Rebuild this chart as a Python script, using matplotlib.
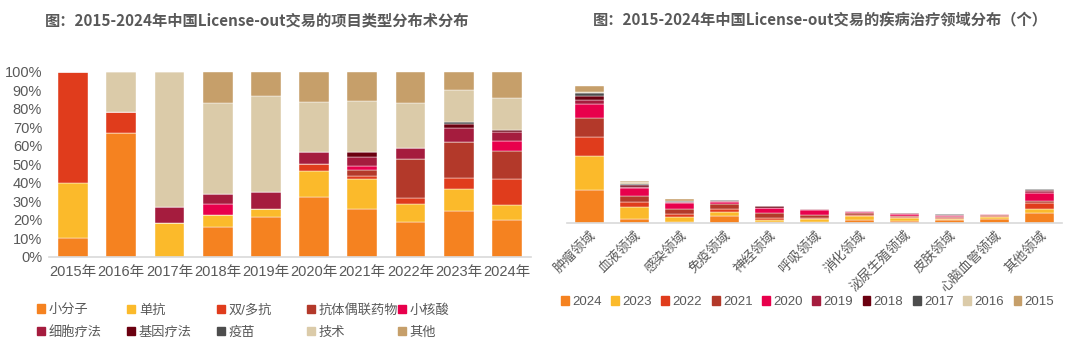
import numpy as np
import matplotlib
matplotlib.use("Agg")
import matplotlib.pyplot as plt
from matplotlib.patches import Patch

plt.rcParams['font.family'] = ['Liberation Sans', 'Noto Sans CJK SC', 'DejaVu Sans']

# ---- left chart: project type share by year (%)
years = ['2015年', '2016年', '2017年', '2018年', '2019年',
         '2020年', '2021年', '2022年', '2023年', '2024年']
types = ['小分子', '单抗', '双/多抗', '抗体偶联药物', '小核酸',
         '细胞疗法', '基因疗法', '疫苗', '技术', '其他']
small_mol = [10, 67, 0, 16.2, 21.6, 32.1, 25.6, 18.6, 24.7, 20.0]
mab = [30, 0, 18, 6.1, 4.0, 14.2, 16.2, 10.0, 11.9, 7.9]
bispecific = [60, 11, 0, 0, 0, 3.8, 1.8, 3.1, 6.1, 14.1]
adc = [0, 0, 0, 0, 0, 0, 3.2, 21.1, 19.1, 15.3]
sirna = [0, 0, 0, 6.2, 0, 0, 2.0, 0, 0, 5.2]
cell = [0, 0, 9, 5.5, 9.2, 6.7, 4.9, 5.9, 7.9, 5.1]
gene = [0, 0, 0, 0, 0, 0, 3.1, 0, 1.8, 1.0]
vaccine = [0, 0, 0, 0, 0, 0, 0, 0, 1.3, 0]
tech = [0, 22, 73, 49.2, 52.2, 26.8, 27.2, 24.2, 17.1, 17.0]
other = [0, 0, 0, 16.8, 13.0, 16.4, 16.0, 17.1, 10.1, 14.4]
type_colors = ['#F58220', '#FBBA2B', '#E03C1C', '#B3392A', '#E8004C',
               '#A51C3E', '#6B0010', '#4D4D4D', '#DBCBA9', '#C69F6A']

# ---- right chart: disease area deal counts by year
areas = ['肿瘤领域', '血液领域', '感染领域', '免疫领域', '神经领域', '呼吸领域',
         '消化领域', '泌尿生殖领域', '皮肤领域', '心脑血管领域', '其他领域']
year_names = ['2024', '2023', '2022', '2021', '2020',
              '2019', '2018', '2017', '2016', '2015']
y2024 = [67, 9, 3, 15, 3, 3, 7, 5, 7, 9, 21]
y2023 = [68, 23, 9, 7, 3, 5, 8, 5, 1, 4, 8]
y2022 = [38, 11, 7, 7, 5, 3, 2, 3, 3, 2, 11]
y2021 = [37, 11, 9, 9, 9, 5, 3, 2, 1, 1, 5]
y2020 = [28, 16, 13, 5, 11, 11, 2, 3, 3, 2, 15]
y2019 = [9, 3, 1, 1, 0, 1, 2, 1, 2, 0, 4]
y2018 = [8, 3, 0, 0, 3, 0, 0, 1, 0, 0, 3]
y2017 = [5, 3, 2, 3, 0, 0, 0, 0, 2, 0, 1]
y2016 = [3, 3, 1, 0, 0, 0, 0, 0, 0, 0, 0]
y2015 = [12, 3, 3, 0, 0, 0, 1, 0, 0, 0, 0]
year_colors = type_colors

grey = '#595959'

fig = plt.figure(figsize=(10.8, 3.45), dpi=100)

# left
ax1 = fig.add_axes([49/1080, 1-256.7/345, 482/1080, 185/345])
series = [small_mol, mab, bispecific, adc, sirna, cell, gene, vaccine, tech, other]
x = np.arange(len(years))
bottom = np.zeros(len(years))
for vals, col in zip(series, type_colors):
    v = np.array(vals) / 100.0
    ax1.bar(x, v, 0.62, bottom=bottom, color=col, edgecolor='white', linewidth=0.3)
    bottom += v
ax1.set_xlim(-0.5, len(years) - 0.5)
ax1.set_ylim(0, 1)
ax1.set_yticks(np.arange(0, 1.01, 0.1))
ax1.set_yticklabels(['%d%%' % (i * 10) for i in range(11)])
ax1.set_xticks(x)
ax1.set_xticklabels(years)
for s in ['top', 'right', 'left']:
    ax1.spines[s].set_visible(False)
ax1.spines['bottom'].set_color('#D9D9D9')
ax1.spines['bottom'].set_linewidth(1.2)
ax1.tick_params(length=0, labelsize=10.5, colors=grey, pad=6)
ax1.tick_params(axis='y', pad=5)

# legend laid out as a fixed grid: 5 columns, 2 rows
col_x = [37, 127, 217, 307, 398]
for j in range(5):
    idx = [j, j + 5]
    lg = fig.legend([Patch(color=type_colors[i]) for i in idx], [types[i] for i in idx],
                    loc='center left', bbox_to_anchor=(col_x[j]/1080, 1-321.5/345),
                    frameon=False, fontsize=9.5, handlelength=0.6, handleheight=0.6,
                    handletextpad=0.3, labelspacing=0.75, labelcolor=grey,
                    borderpad=0, borderaxespad=0)

fig.text(257/1080, 1-20/345, '图：2015-2024年中国License-out交易的项目类型分布术分布',
         ha='center', va='center', fontsize=11, fontweight='bold', color=grey,
         family=['Noto Sans CJK SC'])

# right
ax2 = fig.add_axes([567/1080, 1-223/345, 495/1080, 152/345])
yseries = [y2024, y2023, y2022, y2021, y2020, y2019, y2018, y2017, y2016, y2015]
xa = np.arange(len(areas))
bottom = np.zeros(len(areas))
for vals, col in zip(yseries, year_colors):
    v = np.array(vals, dtype=float)
    ax2.bar(xa, v, 0.63, bottom=bottom, color=col, edgecolor='white', linewidth=0.3)
    bottom += v
ax2.set_xlim(-0.5, len(areas) - 0.5)
ax2.set_ylim(0, 304)
ax2.set_yticks([])
ax2.set_xticks(xa)
ax2.set_xticklabels(areas, rotation=45, ha='right', rotation_mode='anchor')
for s in ['top', 'right', 'left']:
    ax2.spines[s].set_visible(False)
ax2.spines['bottom'].set_color('#D9D9D9')
ax2.spines['bottom'].set_linewidth(1.2)
ax2.tick_params(length=0, labelsize=9.5, colors=grey, pad=4)

yh = [Patch(color=c, label=n) for n, c in zip(year_names, year_colors)]
fig.legend(yh, year_names, ncol=10, loc='center left',
           bbox_to_anchor=(561/1080, 1-302/345), frameon=False, fontsize=9.5,
           handlelength=0.6, handleheight=0.6, handletextpad=0.25,
           columnspacing=0.72, labelcolor=grey, borderpad=0, borderaxespad=0)

fig.text(820/1080, 1-20/345, '图：2015-2024年中国License-out交易的疾病治疗领域分布（个）',
         ha='center', va='center', fontsize=11, fontweight='bold', color=grey,
         family=['Noto Sans CJK SC'])

fig.savefig('out.png', dpi=100, facecolor='white')
